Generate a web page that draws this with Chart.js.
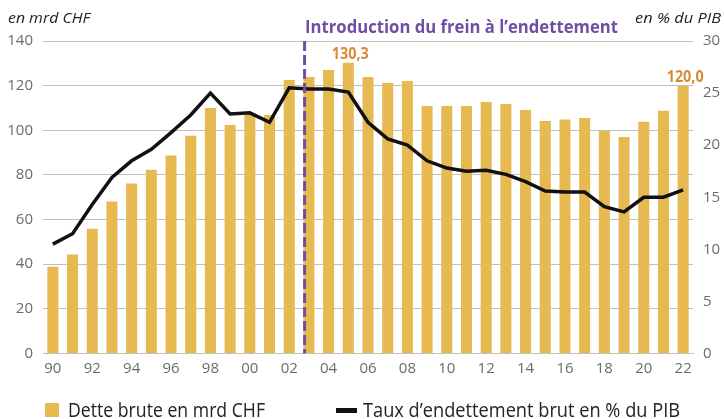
<!DOCTYPE html>
<html>
<head>
<meta charset="utf-8">
<script src="https://cdn.jsdelivr.net/npm/chart.js@4"></script>
<style>
  html, body { margin: 0; padding: 0; background: #fff; }
  #wrap { position: relative; width: 724px; height: 419px; overflow: hidden; font-family: "Open Sans", sans-serif; }
  canvas { position: absolute; left: 0; top: 0; }
  .txt { position: absolute; white-space: nowrap; line-height: 1; transform-origin: 0 0; }
  .unit { font-size: 15px; font-style: italic; color: #222; }
  .annot { font-size: 18px; font-weight: 700; color: #6f4fa3; }
  .leg { font-size: 19.5px; color: #222; }
  .sw { position: absolute; }
</style>
</head>
<body>
<div id="wrap">
  <canvas id="c" width="724" height="419"></canvas>
  <div class="txt unit" data-w="82" style="left:8px; top:10px;">en mrd CHF</div>
  <div class="txt unit" data-w="86" style="left:635px; top:10px;">en % du PIB</div>
  <div class="txt annot" id="annot" data-w="313" style="left:305px; top:17px;">Introduction du frein à l’endettement</div>
  <div class="sw" style="left:45px; top:403px; width:14px; height:14px; background:#E6B951;"></div>
  <div class="txt leg" data-w="197" style="left:68px; top:400px;">Dette brute en mrd CHF</div>
  <div class="sw" style="left:336px; top:408px; width:21px; height:5px; background:#111;"></div>
  <div class="txt leg" data-w="317" style="left:363px; top:400px;">Taux d’endettement brut en % du PIB</div>
</div>
<script>
// ---- data ----
const years = ['90','91','92','93','94','95','96','97','98','99','00','01','02','03','04','05','06','07','08','09','10','11','12','13','14','15','16','17','18','19','20','21','22'];
const grossDebt = [38.9,44.3,55.9,68.1,76.2,82.3,88.7,97.6,110.0,102.4,107.5,106.9,122.5,123.9,127.0,130.3,123.9,121.2,122.1,110.9,110.9,110.9,112.7,111.8,109.1,104.2,104.8,105.5,99.7,97.0,103.8,108.7,120.0];
const debtRatio = [10.5,11.5,14.3,16.9,18.5,19.6,21.2,22.9,25.0,23.0,23.1,22.2,25.5,25.4,25.4,25.1,22.2,20.6,20.0,18.5,17.8,17.5,17.6,17.2,16.5,15.6,15.5,15.5,14.1,13.6,15.0,15.0,15.7];
const labelledYears = ['05','22'];
const leftTicks = [0,20,40,60,80,100,120,140];
const rightTicks = [0,5,10,15,20,25,30];
const brakePosition = 12.78; // introduction of debt brake, in category units

// compress texts to reference widths
document.querySelectorAll('[data-w]').forEach(el => {
  const w = el.getBoundingClientRect().width;
  const t = parseFloat(el.dataset.w);
  el.style.transform = 'scaleX(' + (t / w) + ')';
});

const overlay = {
  id: 'overlay',
  afterDatasetsDraw(chart) {
    const ctx = chart.ctx;
    const x = chart.scales.x;
    const y = chart.scales.y;
    const area = chart.chartArea;
    // dashed brake line
    const bx = x.getPixelForValue(brakePosition);
    ctx.save();
    ctx.strokeStyle = '#6f4fa3';
    ctx.lineWidth = 3;
    ctx.setLineDash([10, 4]);
    ctx.beginPath();
    ctx.moveTo(bx, area.top);
    ctx.lineTo(bx, area.bottom);
    ctx.stroke();
    ctx.restore();
    // value labels
    ctx.save();
    ctx.fillStyle = '#DA8A37';
    ctx.font = 'bold 16px "Open Sans"';
    ctx.textAlign = 'center';
    ctx.textBaseline = 'alphabetic';
    labelledYears.forEach(yr => {
      const i = years.indexOf(yr);
      const v = grossDebt[i];
      const txt = v.toFixed(1).replace('.', ',');
      ctx.fillText(txt, x.getPixelForValue(i) + 2, y.getPixelForValue(v) - 4, 37);
    });
    ctx.restore();
  }
};

new Chart(document.getElementById('c'), {
  data: {
    labels: years,
    datasets: [
      { type: 'line', label: 'Taux d’endettement brut en % du PIB', data: debtRatio, yAxisID: 'y1',
        borderColor: '#111', borderWidth: 3.5, pointRadius: 0, tension: 0, order: 0 },
      { type: 'bar', label: 'Dette brute en mrd CHF', data: grossDebt, yAxisID: 'y',
        backgroundColor: '#E6B951', barPercentage: 0.56, categoryPercentage: 1, order: 1 }
    ]
  },
  options: {
    responsive: false,
    animation: false,
    devicePixelRatio: 1,
    layout: { padding: { top: 41, bottom: 35, left: 0, right: 0 } },
    plugins: { legend: { display: false }, tooltip: { enabled: false } },
    scales: {
      x: {
        grid: { display: false, drawTicks: false },
        border: { display: true, color: '#c0c0c0', width: 1 },
        ticks: { autoSkip: false, maxRotation: 0, padding: 6, color: '#6b6b6b', font: { family: 'Open Sans', size: 15 },
          callback: (v, i) => (i % 2 === 0 ? years[i] : '') },
        afterFit(s) { s.height = 30.5; }
      },
      y: {
        position: 'left', min: 0, max: 140,
        afterBuildTicks(s) { s.ticks = leftTicks.map(v => ({ value: v })); },
        grid: { color: '#c0c0c0', lineWidth: 1, drawTicks: false },
        border: { display: false },
        ticks: { padding: 10, color: '#6b6b6b', font: { family: 'Open Sans', size: 15 } },
        afterFit(s) { s.width = 43; }
      },
      y1: {
        position: 'right', min: 0, max: 30,
        afterBuildTicks(s) { s.ticks = rightTicks.map(v => ({ value: v })); },
        grid: { display: false, drawTicks: false },
        border: { display: false },
        ticks: { padding: 10, color: '#6b6b6b', font: { family: 'Open Sans', size: 15 } },
        afterFit(s) { s.width = 31; }
      }
    }
  },
  plugins: [overlay]
});
</script>
</body>
</html>
